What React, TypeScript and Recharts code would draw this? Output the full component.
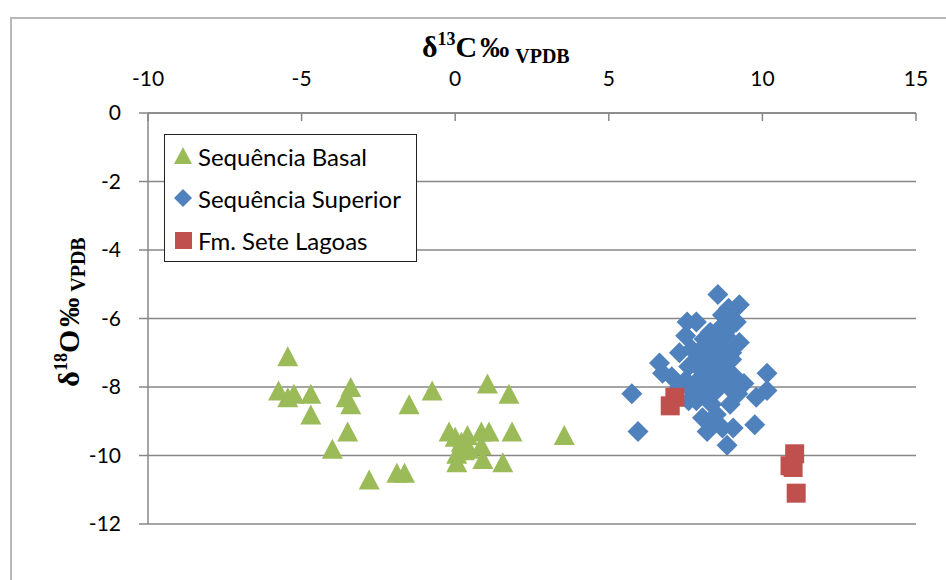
import { ScatterChart, Scatter, XAxis, YAxis, CartesianGrid } from 'recharts';

const xTicks = [-10, -5, 0, 5, 10, 15];
const yTicks = [0, -2, -4, -6, -8, -10, -12];

// Sequência Basal
const basalC = [-5.45, -5.75, -5.45, -5.25, -4.7, -4.7, -3.4, -3.55, -3.4, -3.5, -4.0, -2.8, -1.9, -1.65, -1.5,
  -0.75, -0.2, 0.0, 0.2, 0.3, 0.05, 0.05, 0.45, 0.4, 0.85, 0.85, 0.9, 1.1, 1.05, 1.75, 1.55, 1.85, 3.55];
const basalO = [-7.1, -8.1, -8.3, -8.2, -8.2, -8.8, -8.0, -8.3, -8.5, -9.3, -9.8, -10.7, -10.5, -10.5, -8.5,
  -8.1, -9.3, -9.45, -9.6, -9.85, -9.95, -10.2, -9.8, -9.4, -9.3, -9.7, -10.1, -9.3, -7.9, -8.2, -10.2, -9.3, -9.4];

// Sequência Superior
const superiorC = [8.55, 9.25, 8.9, 8.7, 9.0, 7.55, 7.85, 9.15, 8.6, 8.9, 8.3, 8.8, 7.5, 9.25, 8.1, 8.5,
  7.3, 7.7, 8.0, 8.4, 8.8, 9.0, 6.65, 7.9, 8.2, 8.6, 9.0, 7.6, 8.0, 8.4, 8.8, 6.75, 7.05, 7.5, 7.9, 8.3,
  8.7, 9.1, 10.15, 7.3, 7.7, 8.1, 8.5, 8.9, 9.4, 10.15, 5.75, 7.6, 7.85, 8.35, 8.95, 9.8, 8.2, 9.2, 8.05,
  8.5, 5.95, 8.2, 8.7, 9.05, 9.75, 8.85, 8.4];
const superiorO = [-5.3, -5.6, -5.7, -5.9, -6.0, -6.1, -6.1, -6.1, -6.3, -6.3, -6.4, -6.5, -6.5, -6.7, -6.6, -6.6,
  -7.0, -6.9, -6.9, -6.9, -6.9, -7.0, -7.3, -7.2, -7.2, -7.2, -7.2, -7.4, -7.5, -7.5, -7.5, -7.6, -7.7, -7.8, -7.8, -7.8,
  -7.8, -7.7, -7.6, -8.0, -8.1, -8.1, -8.1, -8.0, -7.9, -8.1, -8.2, -8.4, -8.4, -8.5, -8.5, -8.3, -8.2, -8.2, -8.9,
  -8.8, -9.3, -9.3, -9.2, -9.2, -9.1, -9.7, -9.0];

// Fm. Sete Lagoas
const seteC = [7.15, 7.0, 11.05, 10.9, 11.0, 11.1];
const seteO = [-8.3, -8.55, -9.95, -10.3, -10.35, -11.1];

const zip = (xs: number[], ys: number[]) => xs.map((x, i) => ({ x, y: ys[i] }));

const GREEN = '#9bbb59';
const BLUE = '#4f81bd';
const RED = '#c0504d';
const GRID = '#878787';
const FONT = 'Lato, "Open Sans", sans-serif';
const SERIF = '"Liberation Serif", "DejaVu Serif", serif';

const Triangle = ({ cx, cy }: any) => (
  <polygon points={`${cx},${cy - 10} ${cx + 10.5},${cy + 10} ${cx - 10.5},${cy + 10}`} fill={GREEN} />
);
const Diamond = ({ cx, cy }: any) => (
  <polygon points={`${cx},${cy - 10.5} ${cx + 10.5},${cy} ${cx},${cy + 10.5} ${cx - 10.5},${cy}`} fill={BLUE} />
);
const Square = ({ cx, cy }: any) => <rect x={cx - 9.5} y={cy - 9.5} width={19} height={19} fill={RED} />;

const series = [
  { name: 'Sequência Basal', data: zip(basalC, basalO), shape: Triangle },
  { name: 'Sequência Superior', data: zip(superiorC, superiorO), shape: Diamond },
  { name: 'Fm. Sete Lagoas', data: zip(seteC, seteO), shape: Square },
];

const TopTick = (props: any) => {
  const { x, y, payload } = props;
  return (
    <g>
      <line x1={x} x2={x} y1={y + 27} y2={y + 35} stroke={GRID} strokeWidth={1.5} />
      <text x={x} y={y} textAnchor="middle" fontFamily={FONT} fontSize={21} fill="#000">{payload.value}</text>
    </g>
  );
};

const LegendBox = () => (
  <div style={{ position: 'absolute', left: 164, top: 134, border: '1px solid #222', background: '#fff', width: 251, height: 126 }}>
    {series.map((s, i) => (
      <div key={s.name} style={{ height: 42, display: 'flex', alignItems: 'center' }}>
        <svg width={30} height={30} style={{ marginLeft: 3 }}>
          {i === 0 && <polygon points="15,6 24,23 6,23" fill={GREEN} />}
          {i === 1 && <polygon points="15,6 24,15 15,24 6,15" fill={BLUE} />}
          {i === 2 && <rect x={7} y={7} width={17} height={17} fill={RED} />}
        </svg>
        <span style={{ fontFamily: FONT, fontSize: 24, color: '#000' }}>{s.name}</span>
      </div>
    ))}
  </div>
);

export default function App() {
  return (
    <div style={{ position: 'absolute', left: 0, top: 0, width: 946, height: 580, overflow: 'hidden', background: '#fff' }}>
      <div style={{ position: 'absolute', left: 10, top: 17, width: 1000, height: 1000, border: '2px solid #b8b8b8' }} />
      <ScatterChart width={946} height={580} margin={{ top: 73, left: 88, right: 30, bottom: 56 }}>
        <CartesianGrid vertical={false} stroke={GRID} strokeWidth={1.5} />
        <XAxis
          type="number"
          dataKey="x"
          orientation="top"
          domain={[-10, 15]}
          ticks={xTicks}
          height={40}
          tickSize={0}
          tickMargin={27}
          tickLine={false}
          axisLine={{ stroke: GRID, strokeWidth: 1.5 }}
          tick={<TopTick />}
          interval={0}
        />
        <YAxis
          type="number"
          dataKey="y"
          domain={[-12, 0]}
          ticks={yTicks}
          width={60}
          tickSize={9}
          tickMargin={18}
          tickLine={{ stroke: GRID, strokeWidth: 1.5 }}
          axisLine={{ stroke: GRID, strokeWidth: 1.5 }}
          tick={{ fontFamily: FONT, fontSize: 21, fill: '#000' }}
          interval={0}
        />
        {series.map(s => (
          <Scatter key={s.name} name={s.name} data={s.data} shape={s.shape} isAnimationActive={false} />
        ))}
      </ScatterChart>
      <LegendBox />
      <svg width={946} height={580} style={{ position: 'absolute', left: 0, top: 0, pointerEvents: 'none' }}>
        <text x={422} y={57} fontFamily={SERIF} fontWeight="bold" fontSize={30} fill="#000">
          δ<tspan fontSize={18} dy={-12}>13</tspan>
          <tspan fontSize={30} dy={12}>C</tspan>
          <tspan fontSize={29} dx={3}>‰</tspan>
          <tspan fontSize={20} dx={6} dy={6}>VPDB</tspan>
        </text>
        <text x={0} y={0} transform="translate(79,312) rotate(-90)" textAnchor="middle" fontFamily={SERIF} fontWeight="bold" fontSize={30} fill="#000">
          δ<tspan fontSize={18} dy={-12}>18</tspan>
          <tspan fontSize={30} dy={12}>O</tspan>
          <tspan fontSize={29} dx={3}>‰</tspan>
          <tspan fontSize={20} dx={6} dy={6}>VPDB</tspan>
        </text>
      </svg>
    </div>
  );
}
